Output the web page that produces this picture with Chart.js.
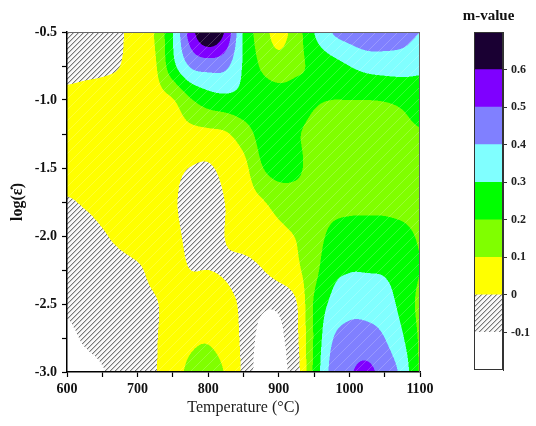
<!DOCTYPE html>
<html>
<head>
<meta charset="utf-8">
<script src="https://cdn.jsdelivr.net/npm/chart.js@4.4.1/dist/chart.umd.min.js"></script>
<style>
  html, body { margin: 0; padding: 0; background: #fff; }
  #wrap { position: relative; width: 536px; height: 426px; }
  #main { position: absolute; left: 0; top: 0; }
  #bar { position: absolute; left: 440px; top: 0; }
</style>
</head>
<body>
<div id="wrap">
  <canvas id="main" width="536" height="426"></canvas>
  <canvas id="bar" width="96" height="426"></canvas>
</div>
<script>
// Grid of the processing map
const temps = [600, 625, 650, 675, 700, 725, 750, 775, 800, 825, 850, 875, 900, 925, 950, 975, 1000, 1025, 1050, 1075, 1100];
const logRates = [-3.0, -2.75, -2.5, -2.25, -2.0, -1.75, -1.5, -1.25, -1.0, -0.75, -0.5];

// m-value, one row per log strain rate (same order as logRates), one column per temperature
const mGrid = [
  [-0.16, -0.13, -0.105, -0.07, -0.03, -0.005, 0.06, 0.12, 0.14, 0.09, -0.02, -0.15, -0.13, -0.04, 0.22, 0.43, 0.49, 0.52, 0.46, 0.37, 0.19],
  [-0.12, -0.09, -0.07, -0.045, -0.02, -0.005, 0.04, 0.08, 0.09, 0.05, -0.02, -0.13, -0.12, -0.02, 0.21, 0.39, 0.44, 0.44, 0.40, 0.31, 0.19],
  [-0.09, -0.07, -0.05, -0.03, -0.015, -0.005, 0.03, 0.05, 0.05, 0.03, -0.02, -0.08, -0.08, -0.005, 0.21, 0.32, 0.36, 0.36, 0.34, 0.27, 0.18],
  [-0.09, -0.07, -0.05, -0.03, -0.01, 0.02, 0.03, 0.0, 0.0, -0.01, -0.03, -0.005, 0.04, 0.08, 0.17, 0.27, 0.295, 0.295, 0.29, 0.26, 0.20],
  [-0.06, -0.04, -0.01, 0.02, 0.04, 0.04, 0.02, -0.02, -0.04, 0.003, 0.04, 0.06, 0.08, 0.105, 0.16, 0.22, 0.245, 0.25, 0.245, 0.23, 0.19],
  [-0.01, 0.01, 0.03, 0.04, 0.04, 0.03, 0.01, -0.03, -0.04, 0.003, 0.05, 0.09, 0.13, 0.15, 0.16, 0.17, 0.17, 0.17, 0.17, 0.16, 0.15],
  [0.05, 0.05, 0.05, 0.045, 0.04, 0.03, 0.02, -0.002, -0.01, 0.03, 0.07, 0.19, 0.24, 0.22, 0.16, 0.14, 0.13, 0.13, 0.13, 0.14, 0.15],
  [0.04, 0.045, 0.05, 0.05, 0.05, 0.055, 0.06, 0.07, 0.075, 0.09, 0.15, 0.23, 0.24, 0.21, 0.17, 0.15, 0.14, 0.14, 0.15, 0.17, 0.19],
  [0.03, 0.04, 0.045, 0.05, 0.06, 0.07, 0.095, 0.19, 0.25, 0.27, 0.27, 0.26, 0.25, 0.24, 0.21, 0.20, 0.20, 0.20, 0.205, 0.22, 0.25],
  [-0.04, -0.03, -0.02, 0.0, 0.05, 0.09, 0.27, 0.41, 0.44, 0.42, 0.29, 0.19, 0.14, 0.18, 0.22, 0.26, 0.30, 0.33, 0.34, 0.34, 0.32],
  [-0.06, -0.05, -0.04, -0.01, 0.04, 0.11, 0.30, 0.55, 0.70, 0.58, 0.29, 0.15, 0.07, 0.15, 0.30, 0.40, 0.44, 0.47, 0.46, 0.44, 0.40]
];

// contour levels and colour bar edges
const levels = [-0.1, 0, 0.1, 0.2, 0.3, 0.4, 0.5, 0.6];
const barEdges = [-0.2, -0.1, 0, 0.1, 0.2, 0.3, 0.4, 0.5, 0.6, 0.7];

// one colour per band, lowest first ('hatch' = hatched band)
const bandColors = ['#ffffff', 'hatch', '#ffff00', '#80ff00', '#00ff00', '#80ffff', '#8080ff', '#7f00ff', '#1a0033'];

const serif = "'Liberation Serif', 'Times New Roman', serif";

function hexToRgb(h) {
  return [parseInt(h.slice(1, 3), 16), parseInt(h.slice(3, 5), 16), parseInt(h.slice(5, 7), 16)];
}
const bandRgb = bandColors.map(c => c === 'hatch' ? null : hexToRgb(c));

function hatchRgb(px, py) {
  const d = ((px + py) % 5 + 5) % 5;
  if (d === 0) return [120, 120, 120];
  if (d === 1) return [200, 200, 200];
  return [248, 248, 248];
}

function cubic(p0, p1, p2, p3, t) {
  return 0.5 * (2 * p1 + (-p0 + p2) * t + (2 * p0 - 5 * p1 + 4 * p2 - p3) * t * t + (-p0 + 3 * p1 - 3 * p2 + p3) * t * t * t);
}

function pick(arr, i) {
  return arr[Math.max(0, Math.min(arr.length - 1, i))];
}

// smooth (Catmull-Rom) value between grid nodes
function sampleM(T, L) {
  const fx = (T - temps[0]) / (temps[1] - temps[0]);
  const fy = (L - logRates[0]) / (logRates[1] - logRates[0]);
  const ix = Math.max(0, Math.min(temps.length - 2, Math.floor(fx)));
  const iy = Math.max(0, Math.min(logRates.length - 2, Math.floor(fy)));
  const tx = fx - ix, ty = fy - iy;
  const col = [];
  for (let k = -1; k <= 2; k++) {
    const row = pick(mGrid, iy + k);
    col.push(cubic(pick(row, ix - 1), pick(row, ix), pick(row, ix + 1), pick(row, ix + 2), tx));
  }
  return cubic(col[0], col[1], col[2], col[3], ty);
}

function bandOf(v) {
  let b = 0;
  while (b < levels.length && v >= levels[b]) b++;
  return b;
}

// paints the filled contours into the chart area through the scales
const contourPlugin = {
  id: 'contour',
  beforeDraw(chart) {
    const { ctx, chartArea: a, scales } = chart;
    const x0 = Math.round(a.left), y0 = Math.round(a.top);
    const w = Math.round(a.right) - x0, h = Math.round(a.bottom) - y0;
    if (!chart.$contour || chart.$contour.width !== w || chart.$contour.height !== h) {
      const off = document.createElement('canvas');
      off.width = w; off.height = h;
      const octx = off.getContext('2d');
      const img = octx.createImageData(w, h);
      const S = 2;
      const tCols = [], lRows = [];
      for (let i = 0; i < w * S; i++) tCols.push(scales.x.getValueForPixel(x0 + (i + 0.5) / S));
      for (let j = 0; j < h * S; j++) lRows.push(scales.y.getValueForPixel(y0 + (j + 0.5) / S));
      for (let j = 0; j < h; j++) {
        for (let i = 0; i < w; i++) {
          const gx = x0 + i, gy = y0 + j;
          let r = 0, g = 0, b = 0;
          for (let sy = 0; sy < S; sy++) {
            for (let sx = 0; sx < S; sx++) {
              const band = bandOf(sampleM(tCols[i * S + sx], lRows[j * S + sy]));
              let c = band === 1 ? hatchRgb(gx, gy) : bandRgb[band];
              if (band >= 2 && (gx + gy) % 11 === 0) {
                c = [c[0] + (255 - c[0]) * 0.2, c[1] + (255 - c[1]) * 0.2, c[2] + (255 - c[2]) * 0.2];
              }
              r += c[0]; g += c[1]; b += c[2];
            }
          }
          const p = (j * w + i) * 4;
          img.data[p] = r / (S * S);
          img.data[p + 1] = g / (S * S);
          img.data[p + 2] = b / (S * S);
          img.data[p + 3] = 255;
        }
      }
      octx.putImageData(img, 0, 0);
      chart.$contour = off;
    }
    ctx.drawImage(chart.$contour, x0, y0);
  },
  afterDraw(chart) {
    const { ctx, chartArea: a } = chart;
    ctx.save();
    ctx.strokeStyle = '#666';
    ctx.lineWidth = 1;
    ctx.beginPath();
    ctx.moveTo(a.left, a.top + 0.5);
    ctx.lineTo(a.right, a.top + 0.5);
    ctx.moveTo(a.right - 0.5, a.top);
    ctx.lineTo(a.right - 0.5, a.bottom);
    ctx.stroke();
    ctx.restore();
  }
};

new Chart(document.getElementById('main'), {
  type: 'scatter',
  data: { datasets: [] },
  options: {
    responsive: false,
    animation: false,
    layout: { padding: { top: 32, right: 116, left: 0, bottom: 0 } },
    plugins: { legend: { display: false }, tooltip: { enabled: false } },
    scales: {
      x: {
        type: 'linear',
        min: 600,
        max: 1100,
        ticks: {
          stepSize: 50,
          autoSkip: false,
          maxRotation: 0,
          padding: 4,
          color: '#111',
          font: { family: serif, size: 14, weight: 'bold' },
          callback: v => (v % 100 === 0 ? String(v) : '')
        },
        grid: { drawOnChartArea: false, drawTicks: true, tickLength: 5, color: '#000', tickWidth: 1.2 },
        border: { color: '#000', width: 1.5 },
        title: {
          display: true,
          text: 'Temperature (°C)',
          color: '#222',
          font: { family: serif, size: 16 },
          padding: { top: 0, bottom: 9 }
        },
        afterFit: s => { s.height = 54; }
      },
      y: {
        type: 'linear',
        min: -3,
        max: -0.5,
        ticks: {
          stepSize: 0.25,
          autoSkip: false,
          padding: 5,
          color: '#111',
          font: { family: serif, size: 14, weight: 'bold' },
          callback: v => {
            const r = Math.round(v * 2) / 2;
            return Math.abs(v - r) < 1e-6 ? r.toFixed(1) : '';
          }
        },
        grid: { drawOnChartArea: false, drawTicks: true, tickLength: 5, color: '#000', tickWidth: 1.2 },
        border: { color: '#000', width: 1.5 },
        title: {
          display: true,
          text: 'log(ε̇)',
          color: '#111',
          font: { family: serif, size: 16, weight: 'bold' },
          padding: { top: 8, bottom: 0 }
        },
        afterFit: s => { s.width = 67; }
      }
    }
  },
  plugins: [contourPlugin]
});

// colour bar
function makeHatchPattern() {
  const c = document.createElement('canvas');
  c.width = 5; c.height = 5;
  const cx = c.getContext('2d');
  const img = cx.createImageData(5, 5);
  for (let j = 0; j < 5; j++) {
    for (let i = 0; i < 5; i++) {
      const col = hatchRgb(i, j);
      const p = (j * 5 + i) * 4;
      img.data[p] = col[0]; img.data[p + 1] = col[1]; img.data[p + 2] = col[2]; img.data[p + 3] = 255;
    }
  }
  cx.putImageData(img, 0, 0);
  return cx.createPattern(c, 'repeat');
}
const hatchPattern = makeHatchPattern();

const isEdgeTick = v => Math.abs(v - barEdges[0]) < 1e-6 || Math.abs(v - barEdges[barEdges.length - 1]) < 1e-6;

const barPlugin = {
  id: 'barFrame',
  afterDraw(chart) {
    const { ctx, chartArea: a } = chart;
    ctx.save();
    ctx.strokeStyle = '#333';
    ctx.lineWidth = 1;
    ctx.strokeRect(a.left + 0.5, a.top + 0.5, a.right - a.left - 1, a.bottom - a.top - 1);
    ctx.fillStyle = '#111';
    ctx.font = 'bold 15px ' + serif;
    ctx.textAlign = 'center';
    ctx.textBaseline = 'middle';
    ctx.fillText('m-value', (a.left + a.right) / 2, 16);
    ctx.restore();
  }
};

new Chart(document.getElementById('bar'), {
  type: 'bar',
  data: {
    labels: ['m'],
    datasets: bandColors.map((c, i) => ({
      data: [[barEdges[i], barEdges[i + 1]]],
      backgroundColor: c === 'hatch' ? hatchPattern : c,
      borderWidth: 0,
      grouped: false,
      barPercentage: 1,
      categoryPercentage: 1
    }))
  },
  options: {
    responsive: false,
    animation: false,
    layout: { padding: { top: 32, left: 34, right: 0, bottom: 56 } },
    plugins: { legend: { display: false }, tooltip: { enabled: false } },
    scales: {
      x: { display: false },
      y: {
        position: 'right',
        min: barEdges[0],
        max: barEdges[barEdges.length - 1],
        ticks: {
          stepSize: 0.1,
          autoSkip: false,
          padding: 4,
          color: '#222',
          font: { family: serif, size: 12, weight: 'bold' },
          callback: v => (isEdgeTick(v) ? '' : String(Math.round(v * 10) / 10))
        },
        grid: {
          drawOnChartArea: false,
          drawTicks: true,
          tickLength: 4,
          tickColor: c => (c.tick && isEdgeTick(c.tick.value) ? 'rgba(0,0,0,0)' : '#333')
        },
        border: { color: '#333', width: 1 },
        afterFit: s => { s.width = 33; }
      }
    }
  },
  plugins: [barPlugin]
});
</script>
</body>
</html>
